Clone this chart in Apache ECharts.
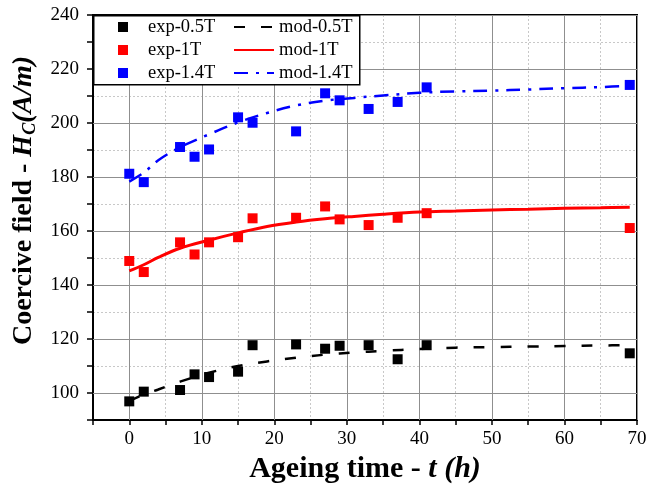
<!DOCTYPE html>
<html>
<head>
<meta charset="utf-8">
<script src="https://cdn.jsdelivr.net/npm/echarts@6/dist/echarts.min.js"></script>
<style>html,body{margin:0;padding:0;background:#fff}#c{width:670px;height:496px}</style>
</head>
<body>
<div id="c"></div>
<script>
// experimental data
const tExp = [0, 2, 7, 9, 11, 15, 17, 23, 27, 29, 33, 37, 41, 69];
const exp05 = [96.9, 100.5, 101.1, 106.9, 105.9, 107.9, 117.7, 118.0, 116.4, 117.5, 117.7, 112.5, 117.7, 114.7];
const exp1 = [148.9, 144.8, 155.8, 151.3, 155.8, 157.7, 164.7, 164.9, 169.1, 164.3, 162.2, 164.9, 166.6, 161.1];
const exp14 = [181.2, 178.1, 191.1, 187.5, 190.2, 202.1, 200.1, 196.9, 211.0, 208.4, 205.2, 207.8, 213.2, 214.1];
// model curves
const tMod = [0, 2, 4, 7, 11, 15, 19, 23, 27, 31, 35, 40, 45, 50, 55, 60, 65, 69];
const mod05 = [97.0, 99.4, 101.3, 104.2, 107.5, 110.0, 111.7, 113.1, 114.2, 115.0, 115.6, 116.3, 116.8, 117.0, 117.2, 117.4, 117.6, 117.7];
const mod1 = [145.2, 147.5, 150.2, 153.6, 156.6, 159.3, 161.7, 163.3, 164.5, 165.4, 166.2, 167.0, 167.4, 167.8, 168.1, 168.4, 168.6, 168.8];
const mod14 = [178.3, 181.6, 186.2, 191.0, 195.8, 200.2, 203.7, 206.5, 208.3, 209.3, 210.2, 211.2, 211.7, 212.0, 212.4, 212.9, 213.3, 213.8];
const names = ['exp-0.5T', 'exp-1T', 'exp-1.4T', 'mod-0.5T', 'mod-1T', 'mod-1.4T'];
const colors = ['#000000', '#ff0000', '#0000ff'];

const pair = (xs, ys) => xs.map((x, i) => [x, ys[i]]);
const FONT = "'Liberation Serif', 'Times New Roman', serif";
const sq = 'path://M0 0H10V10H0Z';

const chart = echarts.init(document.getElementById('c'));
const scatter = (name, ys, c) => ({
  name, type: 'scatter', data: pair(tExp, ys), symbol: 'rect', symbolSize: 10,
  itemStyle: { color: c, opacity: 1 }, z: 4
});
const line = (name, ys, c, type, w) => ({
  name, type: 'line', data: pair(tMod, ys), symbol: 'none', smooth: 0.35,
  lineStyle: { color: c, width: w, type }, itemStyle: { color: c }, z: 3
});
const legendBase = {
  orient: 'vertical', top: 17, padding: 0, itemGap: 3, itemWidth: 40, itemHeight: 10,
  textStyle: { fontFamily: FONT, fontSize: 18.5, color: '#000', lineHeight: 20 }, z: 10
};

chart.setOption({
  animation: false,
  grid: { left: 93, right: 33, top: 15, bottom: 76, show: true, borderColor: '#000', borderWidth: 2, backgroundColor: 'transparent' },
  graphic: [{
    type: 'rect', left: 93, top: 15, z: 8,
    shape: { width: 266, height: 69 },
    style: { fill: '#fff', stroke: '#000', lineWidth: 1.5 }
  }],
  legend: [
    Object.assign({}, legendBase, { left: 118,
      data: [{ name: names[0], icon: sq }, { name: names[1], icon: sq }, { name: names[2], icon: sq }] }),
    Object.assign({}, legendBase, { left: 233,
      data: [{ name: names[3], itemStyle: { opacity: 0 } }, { name: names[4], itemStyle: { opacity: 0 } }, { name: names[5], itemStyle: { opacity: 0 } }] })
  ],
  xAxis: [{
    type: 'value', min: -5, max: 70, interval: 5,
    name: '{b|Ageing time - }{i|t (h)}', nameLocation: 'middle', nameGap: 34,
    nameTextStyle: { rich: {
      b: { fontFamily: FONT, fontSize: 30, fontWeight: 'bold', color: '#000' },
      i: { fontFamily: FONT, fontSize: 30, fontWeight: 'bold', fontStyle: 'italic', color: '#000' }
    } },
    axisLine: { show: true, onZero: false, lineStyle: { color: '#000', width: 2 } },
    axisTick: { show: true, length: 5, lineStyle: { color: '#000', width: 1.5 } },
    axisLabel: { fontFamily: FONT, fontSize: 19, color: '#000', margin: 10,
      formatter: v => (v >= 0 && v % 10 === 0) ? String(v) : '' },
    splitLine: { show: true, lineStyle: { color: '#c8c8c8', width: 1, type: [2, 2] } }
  }, {
    type: 'value', min: -5, max: 70, interval: 5, position: 'top', z: 1,
    axisLine: { show: false }, axisTick: { show: false }, axisLabel: { show: false },
    splitLine: { show: true, lineStyle: { color: ['rgba(0,0,0,0)', '#8f8f8f'], width: 1, type: 'solid' } }
  }],
  yAxis: [{
    type: 'value', min: 90, max: 240, interval: 10,
    name: '{b|Coercive field - }{i|H}{s|C}{i|(A/m)}', nameLocation: 'middle', nameGap: 50,
    nameTextStyle: { padding: [0, 0, 0, 34], rich: {
      b: { fontFamily: FONT, fontSize: 28, fontWeight: 'bold', color: '#000' },
      i: { fontFamily: FONT, fontSize: 28, fontWeight: 'bold', fontStyle: 'italic', color: '#000' },
      s: { fontFamily: FONT, fontSize: 18, fontWeight: 'bold', fontStyle: 'italic', color: '#000', padding: [14, 0, 0, 0] }
    } },
    axisLine: { show: true, onZero: false, lineStyle: { color: '#000', width: 2 } },
    axisTick: { show: true, length: 6, lineStyle: { color: '#000', width: 1.5 } },
    axisLabel: { fontFamily: FONT, fontSize: 19, color: '#000', margin: 14,
      formatter: v => (v % 20 === 0) ? String(v) : '' },
    splitLine: { show: true, lineStyle: { color: '#c8c8c8', width: 1, type: [2, 2] } }
  }, {
    type: 'value', min: 90, max: 240, interval: 10, position: 'right', z: 1,
    axisLine: { show: false }, axisTick: { show: false }, axisLabel: { show: false },
    splitLine: { show: true, lineStyle: { color: ['rgba(0,0,0,0)', '#8f8f8f'], width: 1, type: 'solid' } }
  }],
  series: [
    scatter(names[0], exp05, colors[0]),
    scatter(names[1], exp1, colors[1]),
    scatter(names[2], exp14, colors[2]),
    line(names[3], mod05, colors[0], [11, 16], 2.5),
    line(names[4], mod1, colors[1], 'solid', 3),
    line(names[5], mod14, colors[2], [14, 8, 3, 8], 2.5)
  ]
});
</script>
</body>
</html>
